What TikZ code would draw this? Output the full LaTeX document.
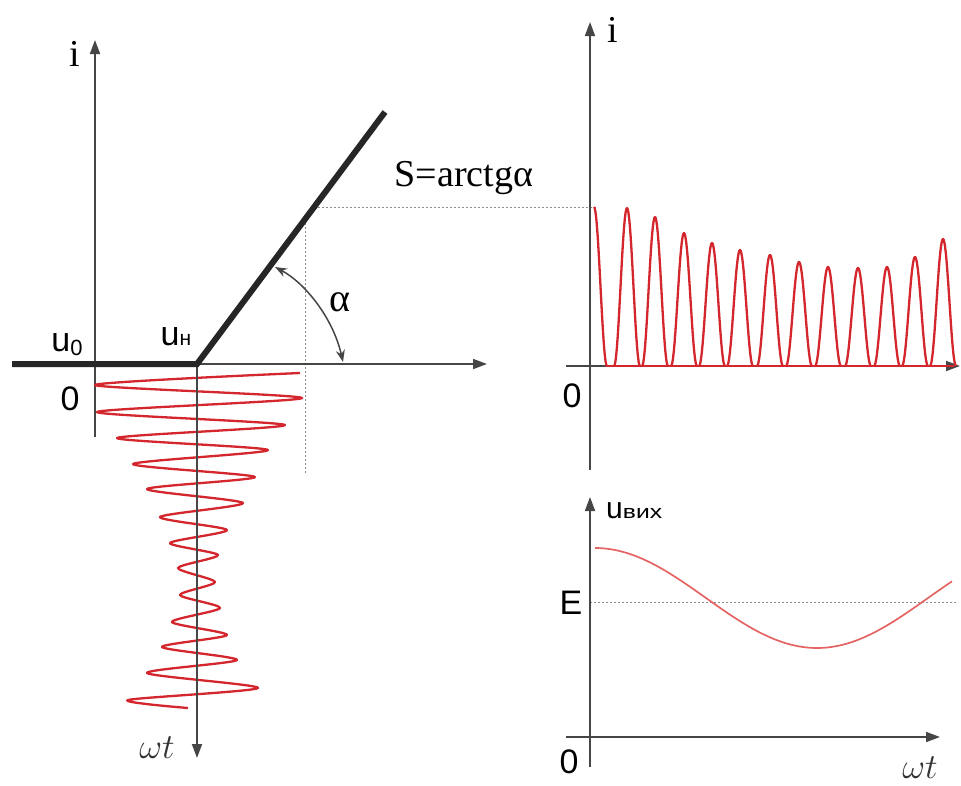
\documentclass[tikz,border=0pt]{standalone}
\usepackage{fontspec}
\setmainfont{Liberation Serif}
\newfontfamily\sansf{Liberation Sans}
\usetikzlibrary{arrows.meta}
\definecolor{axisgray}{RGB}{70,70,70}
\definecolor{wavered}{RGB}{212,38,45}
\definecolor{softred}{RGB}{228,100,100}
\definecolor{dotgray}{RGB}{140,140,140}
\begin{document}
\begin{tikzpicture}[x=1pt,y=-1pt,
  axis/.style={draw=axisgray, line width=1.8pt, -{Triangle[length=14pt,width=10pt]}},
  thickline/.style={draw=black!85, line width=6pt},
  guide/.style={draw=dotgray, line width=1pt, dash pattern=on 2pt off 2pt},
  wave/.style={draw=wavered, line width=2.3pt, line join=round},
  softwave/.style={draw=softred, line width=1.7pt},
  anglearrow/.style={draw=axisgray, line width=1.5pt, {Stealth[length=12pt,width=9pt]}-{Stealth[length=12pt,width=9pt]}},
  seriflbl/.style={font=\fontsize{38}{38}\selectfont, inner sep=0pt, text=black},
  sanslbl/.style={font=\sansf\fontsize{34}{34}\selectfont, inner sep=0pt, text=black},
  mathlbl/.style={font=\fontsize{20}{20}\selectfont, inner sep=0pt, text=black!80},
]
\useasboundingbox (0,0) rectangle (961,785);

% ---------- left graph ----------
\coordinate (iBot) at (95,437);
\coordinate (iTop) at (95,40);
\coordinate (vtx) at (197,364);
\coordinate (xEnd) at (487,364);
\coordinate (wBot) at (197,758);
\coordinate (thickStart) at (12,364);
\coordinate (dTop) at (385,112);
\coordinate (dHoriz) at (314,207);
\coordinate (dVert) at (305,219);
\coordinate (vertEnd) at (305,475);
\coordinate (horizEnd) at (598,207);
\coordinate (arcA) at (275,267);
\coordinate (arcB) at (343,362);

\draw[guide] (dVert) -- (vertEnd);
\draw[guide] (dHoriz) -- (horizEnd);
\draw[axis] (iBot) -- (iTop);
\draw[axis] (vtx) -- (xEnd);

\draw[wave] plot[smooth, tension=0.45] coordinates {
 (300,373) (95,385) (302,398) (97,412) (285,425) (117,438) (268,450)
 (133,464) (255,477) (147,489) (243,503) (160,517) (227,530) (170,543)
 (218,555) (178,568) (215,582) (180,595) (220,608) (172,622) (227,635)
 (162,647) (237,660) (147,673) (258,688) (128,700) (188,708)};

\draw[axis] (vtx) -- (wBot);
\draw[thickline, line cap=butt] (thickStart) -- (vtx) -- (dTop);
\draw[anglearrow] (arcA) .. controls (305,283) and (333,318) .. (arcB);

\node[seriflbl] (lblIleft) at (75,54) {i};
\node[seriflbl] (lblS) at (464,178) {S=arctgα};
\node[seriflbl, font=\fontsize{40}{40}\selectfont] (lblAlpha) at (340,302) {α};
\node[sanslbl, anchor=base] (lblU0) at (67,351) {u\raisebox{-4pt}{\fontsize{22}{22}\selectfont 0}};
\node[sanslbl, anchor=base] (lblUn) at (176,345) {u{\fontsize{21}{21}\selectfont н}};
\node[sanslbl] (lblZeroL) at (70,399) {0};
\node[mathlbl] (lblWtL) at (157,748) {\scalebox{1.7}{$\omega t$}};

% ---------- right top graph ----------
\coordinate (riBot) at (590,470);
\coordinate (riTop) at (590,22);
\coordinate (rxStart) at (566,366);
\coordinate (rxEnd) at (960,366);
\draw[axis] (riBot) -- (riTop);
\draw[axis] (rxStart) -- (rxEnd);

\draw[wave] (606,366) -- (954,366);
\draw[wave] plot[domain=0:90, samples=20, variable=\t] ({594+13*\t/90},{366-159*cos(\t)*cos(\t)});
\foreach \px/\py in {627/208, 655/217, 684/233, 712/243, 740/250, 770/255,
                     799/262, 828/267, 858/268, 887/267, 915/257, 943/239}{
  \draw[wave] plot[domain=0:180, samples=37, variable=\t]
     ({\px-13+26*\t/180},{366-(366-\py)*sin(\t)*sin(\t)});
}

\node[seriflbl] (lblIright) at (613,30) {i};
\node[sanslbl] (lblZeroR) at (572,396) {0};

% ---------- right bottom graph ----------
\coordinate (ruBot) at (590,767);
\coordinate (ruTop) at (590,497);
\coordinate (rtStart) at (566,737);
\coordinate (rtEnd) at (940,737);
\coordinate (eStart) at (590,602);
\coordinate (eEnd) at (958,602);
\draw[guide] (eStart) -- (eEnd);
\draw[axis] (ruBot) -- (ruTop);
\draw[axis] (rtStart) -- (rtEnd);
\draw[softwave] plot[domain=0:357, samples=90, variable=\t]
   ({595+\t},{598-50*cos(\t*0.8108)});

\node[sanslbl, anchor=base west, font=\sansf\fontsize{30}{30}\selectfont] (lblUout) at (606,518) {u\scalebox{1.3}[1]{\fontsize{19}{19}\selectfont вих}};
\node[sanslbl] (lblE) at (571,603) {E};
\node[sanslbl] (lblZeroB) at (569,762) {0};
\node[mathlbl] (lblWtR) at (920,768) {\scalebox{1.7}{$\omega t$}};
\end{tikzpicture}
\end{document}
